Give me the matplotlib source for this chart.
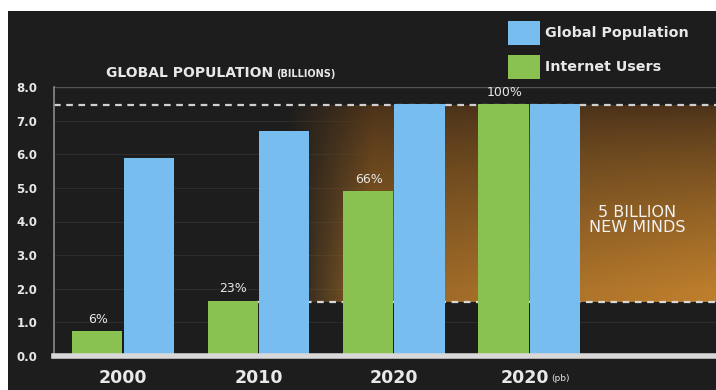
"""Global population vs internet users, dark infographic style."""
import matplotlib
matplotlib.use('Agg')
import matplotlib.pyplot as plt
import numpy as np
from matplotlib.patches import Rectangle

years = ['2000', '2010', '2020', '2020']
year_suffix = ['', '', '', '(pb)']
population = [5.9, 6.7, 7.5, 7.5]
internet = [0.75, 1.65, 4.9, 7.5]
pct_labels = ['6%', '23%', '66%', '100%']
yticks = [0, 1, 2, 3, 4, 5, 6, 7, 8]
pop_line = 7.45
users_line = 1.6

BG = '#1d1d1d'
GREEN = '#8ac251'
BLUE = '#78bdf0'
TXT = '#e8e8e8'

fig = plt.figure(figsize=(7.16, 3.9), dpi=100, facecolor=BG)
# white strips on top and left as in the picture
fig.patches.append(Rectangle((0, 1 - 11/390), 1, 11/390, transform=fig.transFigure,
                             fc='white', ec='none'))
fig.patches.append(Rectangle((0, 0), 8/716, 1, transform=fig.transFigure,
                             fc='white', ec='none'))

ax = fig.add_axes([54/716, (390-356)/390, 662/716, 269/390])
ax.set_facecolor('none')
x = np.arange(len(years))
w = 0.37
ax.set_xlim(-0.51, 4.38)
ax.set_ylim(0, 8)

# orange "new minds" gradient band: dark at top, orange at bottom, fading in from the left
nx, ny = 200, 100
gx = np.linspace(0, 1, nx)[None, :]
gy = np.linspace(0, 1, ny)[:, None]   # 0 = top row
top = np.array([0.30, 0.20, 0.10])
bot = np.array([0.78, 0.52, 0.18])
img = np.zeros((ny, nx, 4))
mix = (0.6 + 0.4 * gx) * np.clip(gy * 1.05, 0, 1) ** 0.8
for c in range(3):
    img[..., c] = top[c] + (bot[c] - top[c]) * mix
img[..., 3] = np.clip(gx * 5, 0, 1) * 0.95
ax.imshow(img, extent=[1.2, 4.38, users_line, pop_line],
          aspect='auto', zorder=1, interpolation='bilinear')

# faint grid
for t in yticks[1:]:
    ax.axhline(t, color='#303030', lw=0.6, zorder=0.5)

ax.bar(x - w/2 - 0.005, internet, w, color=GREEN, zorder=3)
ax.bar(x + w/2 + 0.005, population, w, color=BLUE, zorder=3)

ax.axhline(pop_line, color='#d0d0d0', lw=1.6, ls=(0, (3, 2.5)), zorder=2)
ax.plot([0.98, 4.38], [users_line, users_line], color='#d8d8d8', lw=1.6,
        ls=(0, (3, 2.5)), zorder=2)
ax.axhline(8, color='#555555', lw=1.0, zorder=2)

for xi, v, lab in zip(x, internet, pct_labels):
    ax.text(xi - w/2, v + 0.15, lab, color=TXT, fontsize=9, ha='center',
            va='bottom', zorder=4)

ax.text(3.8, 4.05, '5 BILLION\nNEW MINDS', color='#f2f2f2', fontsize=11.5,
        ha='center', va='center', linespacing=1.0, zorder=4)

for s in ['top', 'right']:
    ax.spines[s].set_visible(False)
ax.spines['left'].set_color('#8a8a8a')
ax.spines['left'].set_linewidth(1.2)
ax.spines['bottom'].set_color('#d8d8d8')
ax.spines['bottom'].set_linewidth(4)
ax.spines['bottom'].set_zorder(5)

ax.set_yticks(yticks)
ax.set_yticklabels([f'{t:.1f}' for t in yticks], color=TXT, fontsize=8.5,
                   fontweight='bold')
ax.tick_params(axis='y', length=0, pad=12)
ax.set_xticks([])
for xi, yr, suf in zip(x, years, year_suffix):
    if suf:
        ax.text(xi + 0.15, -0.38, yr, color=TXT, fontsize=12.5, fontweight='bold',
                ha='right', va='top', clip_on=False)
        ax.text(xi + 0.16, -0.55, suf, color=TXT, fontsize=6.5,
                ha='left', va='top', clip_on=False)
    else:
        ax.text(xi, -0.38, yr, color=TXT, fontsize=12.5, fontweight='bold',
                ha='center', va='top', clip_on=False)

# title
fig.text(106/716, 1 - 73/390, 'GLOBAL POPULATION', color=TXT, fontsize=10,
         fontweight='bold', va='center', ha='left')
fig.text(276/716, 1 - 74/390, '(BILLIONS)', color=TXT, fontsize=7,
         fontweight='bold', va='center', ha='left')

# legend
for (yc, col, lab) in [(33, BLUE, 'Global Population'), (67, GREEN, 'Internet Users')]:
    fig.patches.append(Rectangle((508/716, 1 - (yc + 12)/390), 32/716, 24/390,
                                 transform=fig.transFigure, fc=col, ec='none'))
    fig.text(545/716, 1 - yc/390, lab, color=TXT, fontsize=10.3,
             fontweight='bold', va='center', ha='left')

fig.savefig('out.png', dpi=100, facecolor=fig.get_facecolor())
